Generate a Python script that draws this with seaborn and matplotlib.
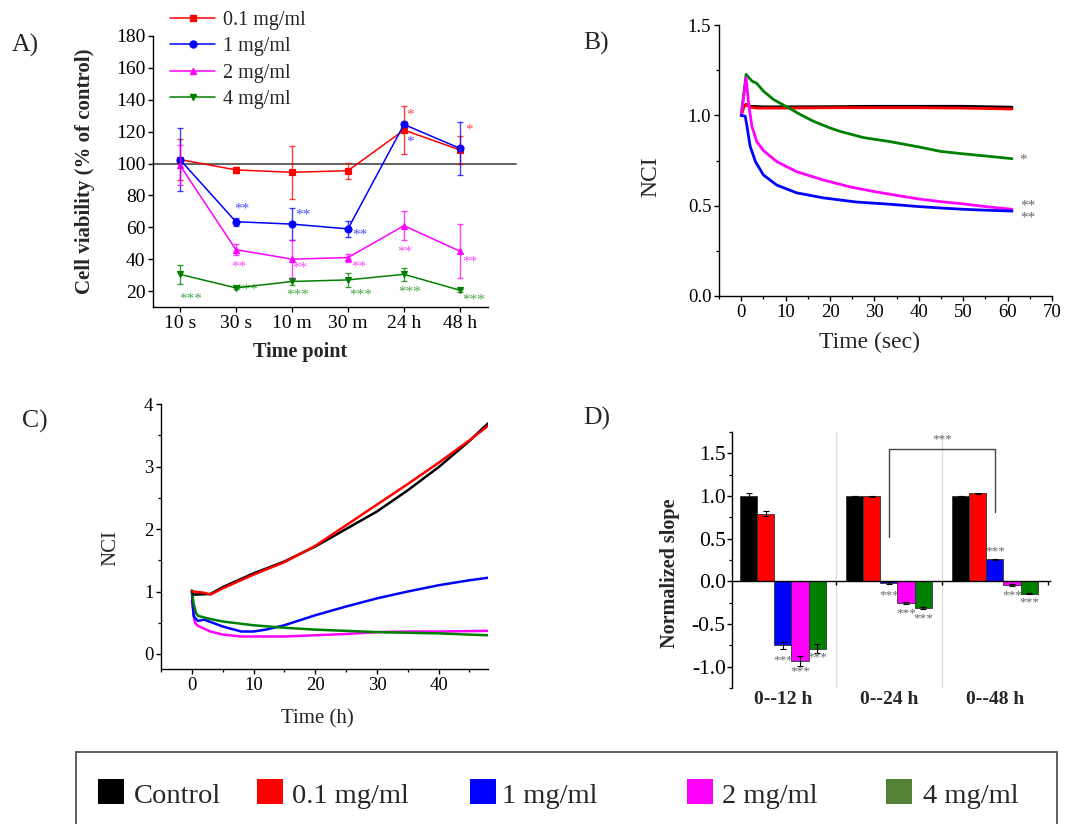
import numpy as np
import pandas as pd
import matplotlib
matplotlib.use("Agg")
import matplotlib.pyplot as plt
import seaborn as sns
from matplotlib.lines import Line2D
from matplotlib.patches import Rectangle
from matplotlib.ticker import MultipleLocator, FormatStrFormatter
import matplotlib.transforms as mtrans

# ---------------- Panel A data ----------------
a_time_points = ["10 s", "30 s", "10 m", "30 m", "24 h", "48 h"]
a_conc = ["0.1 mg/ml", "1 mg/ml", "2 mg/ml", "4 mg/ml"]
a_v01 = [102.5, 96, 94.5, 95.5, 121, 108.5]
a_e01 = [13, 2, 16.5, 5, 15, 9]
a_v1 = [102.5, 63.5, 62, 59, 124.5, 109.5]
a_e1 = [19.5, 2.5, 10, 5, 1.5, 16.5]
a_v2 = [99, 46, 40, 41, 61, 45]
a_e2 = [12.5, 3.5, 12, 2.5, 9, 17]
a_v4 = [30.5, 22, 26, 27, 30.5, 20.5]
a_e4 = [6, 1, 2, 4.5, 4, 1]
# significance marks: (series, time index, text, y)
a_sig_series = [0, 0, 1, 1, 1, 1, 2, 2, 2, 2, 2, 3, 3, 3, 3, 3, 3]
a_sig_time = [4, 5, 4, 1, 2, 3, 1, 2, 3, 4, 5, 0, 1, 2, 3, 4, 5]
a_sig_text = ["*", "*", "*", "**", "**", "**", "**", "**", "**", "**", "**",
              "***", "***", "***", "***", "***", "***"]
a_sig_y = [132, 123, 115, 73, 69.5, 57, 37, 36, 37, 46.5, 40,
           17, 22.5, 19.5, 19.5, 21, 16]
a_sig_dx = [0.1, 0.17, 0.1, 0.1, 0.2, 0.22, 0.05, 0.15, 0.2, 0.02, 0.18,
            0.2, 0.2, 0.1, 0.22, 0.1, 0.25]

# ---------------- Panel B data ----------------
b_t_ctrl = [0, 0.5, 1, 2, 5, 10, 20, 30, 40, 50, 61]
b_v_ctrl = [1.0, 1.05, 1.06, 1.05, 1.047, 1.047, 1.048, 1.05, 1.05, 1.05, 1.045]
b_t_01 = [0, 0.7, 1.3, 2, 3.5, 10, 20, 30, 40, 50, 61]
b_v_01 = [1.0, 1.05, 1.06, 1.045, 1.04, 1.04, 1.042, 1.042, 1.042, 1.04, 1.035]
b_t_1 = [0, 0.9, 1.3, 2.0, 3.2, 5.0, 8.0, 12.5, 18.5, 26, 33.4, 40, 45, 50, 55, 61]
b_v_1 = [1.0, 0.995, 0.94, 0.83, 0.744, 0.67, 0.614, 0.571, 0.543, 0.52, 0.508,
         0.495, 0.487, 0.48, 0.475, 0.47]
b_t_2 = [0, 1.1, 1.65, 2.4, 3.5, 5, 8, 12.5, 18.5, 24.5, 30, 35, 40, 45, 50, 55, 61]
b_v_2 = [1.0, 1.21, 1.07, 0.94, 0.855, 0.805, 0.744, 0.688, 0.642, 0.604, 0.578,
         0.557, 0.537, 0.522, 0.51, 0.495, 0.48]
b_t_4 = [0, 1.1, 2.4, 3.5, 5, 7.3, 10.7, 13.5, 16.3, 20, 22.3, 27.5, 33.4, 40,
         45, 50, 55, 61]
b_v_4 = [1.0, 1.227, 1.19, 1.177, 1.134, 1.087, 1.041, 1.002, 0.967, 0.93, 0.911,
         0.877, 0.855, 0.825, 0.80, 0.787, 0.775, 0.76]
b_sig_text = ["*", "**", "**"]
b_sig_x = [63.5, 64.5, 64.5]
b_sig_y = [0.75, 0.5, 0.43]

# ---------------- Panel C data ----------------
c_t_ctrl = [0, 0.3, 3, 5, 10, 15, 20, 25, 30, 35, 40, 45, 48]
c_v_ctrl = [1.0, 0.95, 0.96, 1.07, 1.29, 1.48, 1.72, 2.0, 2.28, 2.62, 2.99, 3.41, 3.69]
c_t_01 = [0, 0.3, 2, 3, 5, 10, 15, 20, 25, 30, 35, 40, 45, 48]
c_v_01 = [1.0, 1.0, 0.98, 0.95, 1.05, 1.27, 1.47, 1.73, 2.06, 2.39, 2.72, 3.06, 3.42, 3.65]
c_t_1 = [0, 0.3, 1, 2, 5, 8, 10, 12, 15, 20, 25, 30, 35, 40, 45, 48]
c_v_1 = [1.0, 0.6, 0.53, 0.55, 0.44, 0.36, 0.36, 0.39, 0.46, 0.62, 0.76, 0.89,
         1.0, 1.10, 1.18, 1.22]
c_t_2 = [0, 0.5, 1, 3, 5, 8, 15, 20, 25, 30, 35, 40, 48]
c_v_2 = [0.85, 0.5, 0.45, 0.36, 0.31, 0.28, 0.28, 0.30, 0.32, 0.35, 0.36, 0.36, 0.37]
c_t_4 = [0, 0.3, 0.7, 1, 3, 5, 10, 15, 20, 25, 30, 35, 40, 45, 48]
c_v_4 = [1.02, 0.8, 0.65, 0.61, 0.56, 0.52, 0.46, 0.42, 0.39, 0.37, 0.35,
         0.34, 0.33, 0.31, 0.30]

# ---------------- Panel D data ----------------
d_windows = ["0--12 h", "0--24 h", "0--48 h"]
d_groups = ["Control", "0.1 mg/ml", "1 mg/ml", "2 mg/ml", "4 mg/ml"]
d_ctrl = [1.0, 1.0, 1.0]
d_ctrl_err = [0.03, 0.005, 0.004]
d_01 = [0.79, 0.995, 1.03]
d_01_err = [0.03, 0.01, 0.008]
d_1 = [-0.75, -0.02, 0.26]
d_1_err = [0.04, 0.015, 0.005]
d_2 = [-0.93, -0.25, -0.045]
d_2_err = [0.06, 0.012, 0.008]
d_4 = [-0.79, -0.31, -0.145]
d_4_err = [0.05, 0.01, 0.008]
d_sig_window = [0, 0, 0, 1, 1, 1, 2, 2, 2]
d_sig_group = [2, 3, 4, 2, 3, 4, 2, 3, 4]
d_sig_y = [-0.92, -1.06, -0.89, -0.16, -0.37, -0.43, 0.35, -0.16, -0.25]

legend_labels = ["Control", "0.1 mg/ml", "1 mg/ml", "2 mg/ml", "4 mg/ml"]

# ---------------- style ----------------
sns.set_style("ticks")
plt.rcParams["font.family"] = ["Liberation Serif", "DejaVu Serif"]
plt.rcParams["axes.linewidth"] = 1.0
plt.rcParams["xtick.major.width"] = 1.0
plt.rcParams["ytick.major.width"] = 1.0
plt.rcParams["xtick.minor.width"] = 0.9
plt.rcParams["ytick.minor.width"] = 0.9
plt.rcParams["xtick.direction"] = "out"
plt.rcParams["ytick.direction"] = "out"
plt.rcParams["xtick.major.size"] = 3.5
plt.rcParams["ytick.major.size"] = 3.5
plt.rcParams["xtick.minor.size"] = 2.0
plt.rcParams["ytick.minor.size"] = 2.0
plt.rcParams["xtick.color"] = "black"
plt.rcParams["ytick.color"] = "black"
plt.rcParams["axes.edgecolor"] = "black"

RED, BLUE, MAG, GRN = "#FF0000", "#0000FF", "#FF00FF", "#008000"
W, H = 1065, 824
fig = plt.figure(figsize=(W / 100, H / 100), dpi=100)


def fx(px):
    return px / W


def fy(py):
    return 1 - py / H


def axes_px(l, t, r, b):
    return fig.add_axes([fx(l), fy(b), (r - l) / W, (b - t) / H])


# ================= Panel A =================
axA = axes_px(153, 36, 488, 307)
dfA = pd.DataFrame({
    "time": a_time_points * 4,
    "viability": a_v01 + a_v1 + a_v2 + a_v4,
    "conc": sum([[c] * 6 for c in a_conc], []),
})
a_colors = [RED, BLUE, MAG, GRN]
a_markers = ["s", "o", "^", "v"]
axA.axhline(100, xmin=0, xmax=(516 - 153) / 335, color="#555555", lw=1.3,
            clip_on=False, zorder=1)
sns.pointplot(data=dfA, x="time", y="viability", hue="conc", order=a_time_points,
              hue_order=a_conc, palette=a_colors, markers=a_markers,
              linestyles="-", errorbar=None, legend=False, ax=axA,
              markersize=5, linewidth=1.1)
xs = np.arange(len(a_time_points))
for vals, errs, col in zip([a_v01, a_v1, a_v2, a_v4], [a_e01, a_e1, a_e2, a_e4], a_colors):
    axA.errorbar(xs, vals, yerr=errs, fmt="none", ecolor=col, elinewidth=1.0,
                 capsize=2.5, capthick=1.0, alpha=0.75, zorder=2)
for s, ti, txt, yv, dx in zip(a_sig_series, a_sig_time, a_sig_text, a_sig_y, a_sig_dx):
    axA.annotate(txt, (ti + dx, yv), xytext=(0, -2), textcoords="offset points",
                 ha="center", va="center", fontsize=11, color=a_colors[s], alpha=0.7)
axA.set_xlim(-0.48, 5.5)
axA.set_ylim(10, 180)
axA.set_yticks(np.arange(20, 181, 20))
axA.tick_params(labelsize=14, pad=2)
sns.despine(ax=axA)
axA.set_xlabel("Time point", fontsize=14.5, fontweight="bold", va="center")
axA.xaxis.set_label_coords(0.439, -0.166)
axA.set_ylabel("Cell viability (% of control)", fontsize=15, fontweight="bold", va="center")
axA.yaxis.set_label_coords(-0.203, 0.5)
a_handles = [Line2D([], [], color=c, marker=m, lw=1.1, ms=5) for c, m in zip(a_colors, a_markers)]
axA.legend(a_handles, a_conc, loc="upper left", bbox_to_anchor=(fx(170), fy(11)),
           bbox_transform=fig.transFigure, frameon=False, fontsize=14.5,
           handlelength=2.25, handletextpad=0.4, labelspacing=0.36,
           borderpad=0, borderaxespad=0)

# ================= Panel B =================
axB = axes_px(719, 25, 1052, 296)
b_series = [(b_t_ctrl, b_v_ctrl, "black"), (b_t_01, b_v_01, RED),
            (b_t_4, b_v_4, GRN), (b_t_2, b_v_2, MAG), (b_t_1, b_v_1, BLUE)]
for t, v, c in b_series:
    sns.lineplot(x=t, y=v, color=c, lw=2.0, ax=axB, sort=False)
for txt, xv, yv in zip(b_sig_text, b_sig_x, b_sig_y):
    axB.text(xv, yv, txt, ha="center", va="center", fontsize=11, color="#666666")
axB.set_xlim(-5, 70)
axB.set_ylim(0, 1.5)
axB.set_xticks(np.arange(0, 71, 10))
axB.xaxis.set_minor_locator(MultipleLocator(5))
axB.set_yticks([0, 0.5, 1.0, 1.5])
axB.yaxis.set_minor_locator(MultipleLocator(0.25))
axB.yaxis.set_major_formatter(FormatStrFormatter("%.1f"))
axB.tick_params(labelsize=13.5, pad=2)
sns.despine(ax=axB)
axB.set_xlabel("Time (sec)", fontsize=17, va="center")
axB.xaxis.set_label_coords(0.453, -0.173)
axB.set_ylabel("NCI", fontsize=17, va="center")
axB.yaxis.set_label_coords(-0.204, 0.44)

# ================= Panel C =================
axC = axes_px(161, 404, 488, 669)
c_series = [(c_t_2, c_v_2, MAG), (c_t_1, c_v_1, BLUE), (c_t_4, c_v_4, GRN),
            (c_t_ctrl, c_v_ctrl, "black"), (c_t_01, c_v_01, RED)]
for t, v, c in c_series:
    sns.lineplot(x=t, y=v, color=c, lw=1.8, ax=axC, sort=False)
axC.set_xlim(-5, 48)
axC.set_ylim(-0.24, 4)
axC.set_xticks(np.arange(0, 41, 10))
axC.xaxis.set_minor_locator(MultipleLocator(5))
axC.set_yticks(np.arange(0, 5, 1))
axC.yaxis.set_minor_locator(MultipleLocator(0.5))
axC.tick_params(labelsize=13.5, pad=2)
sns.despine(ax=axC)
axC.set_xlabel("Time (h)", fontsize=15, va="center")
axC.xaxis.set_label_coords(0.477, -0.189)
axC.set_ylabel("NCI", fontsize=15, va="center")
axC.yaxis.set_label_coords(-0.153, 0.457)

# ================= Panel D =================
axD = axes_px(732, 432, 1050, 688)
d_vals = [d_ctrl, d_01, d_1, d_2, d_4]
d_errs = [d_ctrl_err, d_01_err, d_1_err, d_2_err, d_4_err]
d_colors = ["black", RED, BLUE, MAG, GRN]
dfD = pd.DataFrame({
    "window": d_windows * 5,
    "slope": sum(d_vals, []),
    "group": sum([[g] * 3 for g in d_groups], []),
})
axD.axvline(0.5, color="#dddddd", lw=1.0, zorder=0)
axD.axvline(1.5, color="#dddddd", lw=1.0, zorder=0)
sns.barplot(data=dfD, x="window", y="slope", hue="group", order=d_windows,
            hue_order=d_groups, palette=d_colors, width=0.81, gap=0, saturation=1,
            edgecolor="#333333", linewidth=0.6, errorbar=None, legend=False, ax=axD)
bar_conts = list(axD.containers)
centers = {}
for gi, cont in enumerate(bar_conts):
    xsD = [b.get_x() + b.get_width() / 2 for b in cont.patches]
    for wi, xv in enumerate(xsD):
        centers[(wi, gi)] = xv
    axD.errorbar(xsD, d_vals[gi], yerr=d_errs[gi], fmt="none", ecolor="black",
                 elinewidth=0.8, capsize=2.5, capthick=0.8, zorder=3)
for wi, gi, yv in zip(d_sig_window, d_sig_group, d_sig_y):
    axD.text(centers[(wi, gi)], yv, "***", ha="center", va="center",
             fontsize=9.5, color="#666666")
# bracket between 1 mg/ml bars of 0--24 h and 0--48 h
axD.plot([centers[(1, 2)], centers[(1, 2)], centers[(2, 2)], centers[(2, 2)]],
         [0.52, 1.55, 1.55, 0.81], color="#444444", lw=1.0)
axD.text((centers[(1, 2)] + centers[(2, 2)]) / 2, 1.66, "***", ha="center",
         va="center", fontsize=9.5, color="#666666")
axD.set_xlim(-0.48, 2.52)
axD.set_ylim(-1.25, 1.75)
axD.set_yticks([-1.0, -0.5, 0.0, 0.5, 1.0, 1.5])
axD.yaxis.set_minor_locator(MultipleLocator(0.25))
axD.yaxis.set_major_formatter(FormatStrFormatter("%.1f"))
axD.spines["bottom"].set_position(("data", 0))
axD.spines["top"].set_visible(False)
axD.spines["right"].set_visible(False)
axD.set_xticks([0.5, 1.5, 2.5])
axD.set_xticklabels([])
axD.tick_params(axis="x", length=3)
axD.tick_params(axis="y", labelsize=15.5, pad=1)
axD.set_xlabel("")
trD = mtrans.blended_transform_factory(axD.transData, axD.transAxes)
for i, w in enumerate(d_windows):
    axD.text(i, -0.045, w, transform=trD, ha="center", va="center",
             fontsize=14, fontweight="bold")
axD.set_ylabel("Normalized slope", fontsize=14.5, fontweight="bold", va="center")
axD.yaxis.set_label_coords(-0.195, 0.449)

# ================= panel letters =================
for lab, px, py in [("A)", 12, 45), ("B)", 583, 43), ("C)", 22, 421), ("D)", 583, 418)]:
    fig.text(fx(px), fy(py), lab, fontsize=18.5, ha="left", va="center")

# ================= shared legend box =================
fig.add_artist(Rectangle((fx(76), fy(834)), (1057 - 76) / W, (834 - 752) / H,
                         transform=fig.transFigure, fill=False,
                         edgecolor="#444444", lw=1.2))
leg_colors = ["black", RED, BLUE, MAG, "#538135"]
leg_sq_x = [98, 257, 470, 687, 886]
leg_tx_x = [134, 292, 502, 722, 923]
for lab, c, sx, tx in zip(legend_labels, leg_colors, leg_sq_x, leg_tx_x):
    fig.add_artist(Rectangle((fx(sx), fy(804)), 26 / W, 25 / H,
                             transform=fig.transFigure, facecolor=c, edgecolor="none"))
    fig.text(fx(tx), fy(803), lab, fontsize=20.5, ha="left", va="baseline")

fig.savefig("out.png", dpi=100)
